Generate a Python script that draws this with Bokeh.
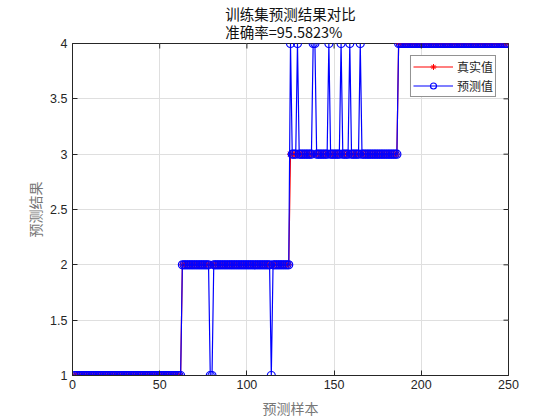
import numpy as np
from bokeh.plotting import figure
from bokeh.models import Range1d, Title, Legend, LegendItem, FixedTicker
from bokeh.embed import file_html
from bokeh.resources import INLINE

# ---- data ----
n_samples = 249
class_labels = [1, 2, 3, 4]
class_counts = [62, 62, 62, 63]
# misclassified samples (index, predicted class)
error_idx = [79, 80, 114, 125, 129, 138, 139, 147, 154, 159, 165]
error_pred = [1, 1, 1, 4, 4, 4, 4, 4, 4, 4, 4]
x_ticks = [0, 50, 100, 150, 200, 250]
y_ticks = [1, 1.5, 2, 2.5, 3, 3.5, 4]
y_tick_labels = ["1", "1.5", "2", "2.5", "3", "3.5", "4"]
title_line1 = "训练集预测结果对比"
title_line2 = "准确率=95.5823%"

x = list(range(1, n_samples + 1))
y_true = []
for lab, cnt in zip(class_labels, class_counts):
    y_true += [lab] * cnt
y_pred = list(y_true)
for i, pv in zip(error_idx, error_pred):
    y_pred[i - 1] = pv

TICK_FONT = "Liberation Sans"
CJK = "Noto Sans CJK SC"
AX_COL = "#262626"

p = figure(frame_width=436, frame_height=332, output_backend="svg",
           toolbar_location=None,
           x_range=Range1d(x_ticks[0], x_ticks[-1]),
           y_range=Range1d(y_ticks[0], y_ticks[-1]),
           min_border_left=72, min_border_right=44, min_border_top=42,
           min_border_bottom=44, title=None)
p.outline_line_color = AX_COL
p.outline_line_width = 1
p.outline_line_alpha = 1

# grid
p.xgrid.ticker = FixedTicker(ticks=x_ticks)
p.ygrid.ticker = FixedTicker(ticks=y_ticks)
p.grid.grid_line_color = "#dfdfdf"
p.grid.grid_line_width = 1

# data
r_true_l = p.line(x, y_true, line_color="#ff0000", line_width=1.2)
r_true_m = p.scatter(x, y_true, marker="asterisk", size=7, line_color="#ff0000",
                     line_width=1)
r_pred_l = p.line(x, y_pred, line_color="#0000ff", line_width=1.2)
r_pred_m = p.scatter(x, y_pred, marker="circle", size=8, line_color="#0000ff",
                     fill_color=None, line_width=1.2)

# inward ticks on the top and right edges of the box
p.scatter(x_ticks, [y_ticks[-1]] * len(x_ticks), marker="dash", angle=np.pi / 2,
          size=10, line_color=AX_COL, line_width=1)
p.scatter([x_ticks[-1]] * len(y_ticks), y_ticks, marker="dash",
          size=10, line_color=AX_COL, line_width=1)

# axes
for ax in [p.xaxis[0], p.yaxis[0]]:
    ax.axis_line_color = AX_COL
    ax.major_tick_line_color = AX_COL
    ax.major_tick_in = 5
    ax.major_tick_out = 0
    ax.minor_tick_line_color = None
    ax.major_label_text_font = TICK_FONT
    ax.major_label_text_font_size = "12.5px"
    ax.major_label_text_color = AX_COL
    ax.axis_label_text_font = CJK
    ax.axis_label_text_font_size = "14px"
    ax.axis_label_text_font_style = "normal"
    ax.axis_label_text_color = "#777777"

p.xaxis.ticker = FixedTicker(ticks=x_ticks)
p.yaxis.ticker = FixedTicker(ticks=y_ticks)
p.yaxis.major_label_overrides = dict(zip(y_ticks, y_tick_labels))
p.xaxis.axis_label = "预测样本"
p.yaxis.axis_label = "预测结果"
p.xaxis.major_label_standoff = 4
p.xaxis.axis_label_standoff = 6
p.yaxis.major_label_standoff = 5
p.yaxis.axis_label_standoff = 2

# two-line title
title = Title(text=title_line1 + "\n" + title_line2, align="center",
              text_font=CJK, text_font_size="14.5px", text_font_style="normal",
              text_color="#111111", standoff=2, offset=0, text_line_height=0.86)
p.add_layout(title, "above")

# legend
legend = Legend(items=[
    LegendItem(label="真实值", renderers=[r_true_l, r_true_m]),
    LegendItem(label="预测值", renderers=[r_pred_l, r_pred_m]),
], location="top_right")
legend.margin = 12
legend.padding = 2
legend.spacing = 2
legend.glyph_width = 40
legend.glyph_height = 15
legend.label_height = 15
legend.label_standoff = 4
legend.label_text_font = CJK
legend.label_text_font_size = "12px"
legend.label_text_color = "#262626"
legend.border_line_color = "#262626"
legend.border_line_width = 1
legend.background_fill_alpha = 1
p.add_layout(legend, "center")

open("out.html", "w").write(file_html(p, INLINE))
